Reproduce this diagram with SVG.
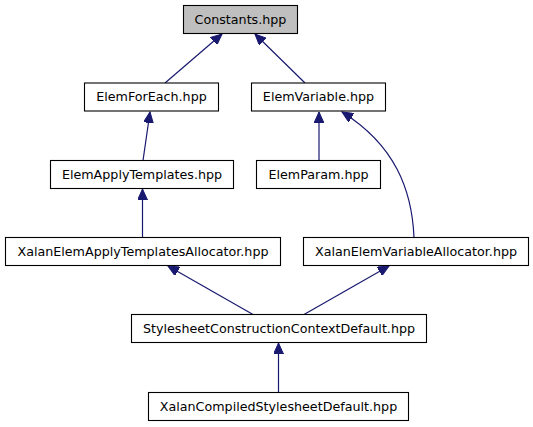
<svg xmlns="http://www.w3.org/2000/svg" width="533" height="427" viewBox="0 0 533 427">
<style>
.box{fill:#ffffff;stroke:#000000;stroke-width:1.1}
.root{fill:#bfbfbf;stroke:#000000;stroke-width:1.1}
text{font-family:"DejaVu Sans",sans-serif;font-size:12.7px;text-anchor:middle;fill:#000000}
.edge{fill:none;stroke:#191970;stroke-width:1.2}
</style>
<defs>
<marker id="ah" markerUnits="userSpaceOnUse" markerWidth="12" markerHeight="10" refX="11" refY="5" orient="auto">
<path d="M0,0 L11,5 L0,10 Z" fill="#191970" stroke="#191970" stroke-width="1"/>
</marker>
</defs>
<rect width="533" height="427" fill="#ffffff"/>
<g id="edges">
<path class="edge" marker-end="url(#ah)" d="M165,83 L222,34"/>
<path class="edge" marker-end="url(#ah)" d="M305,83 L255,34"/>
<path class="edge" marker-end="url(#ah)" d="M143,160.5 L150,112"/>
<path class="edge" marker-end="url(#ah)" d="M319,160.5 L319,112"/>
<path class="edge" marker-end="url(#ah)" d="M414,237.5 C412,190 395,145 342,112"/>
<path class="edge" marker-end="url(#ah)" d="M142.5,237.5 L142.5,189"/>
<path class="edge" marker-end="url(#ah)" d="M253,314.5 L168,266"/>
<path class="edge" marker-end="url(#ah)" d="M304,314.5 L389,266"/>
<path class="edge" marker-end="url(#ah)" d="M278.5,392.5 L278.5,343"/>
</g>
<g id="n_constants"><rect class="root" x="183.5" y="5.5" width="114" height="28"/><text x="240.5" y="23.5">Constants.hpp</text></g>
<g id="n_elemforeach"><rect class="box" x="84.5" y="83" width="134" height="28"/><text x="151.5" y="101">ElemForEach.hpp</text></g>
<g id="n_elemvariable"><rect class="box" x="251.5" y="83" width="134" height="28"/><text x="318.5" y="101">ElemVariable.hpp</text></g>
<g id="n_elemapplytemplates"><rect class="box" x="50.5" y="160.5" width="183" height="28"/><text x="142" y="178.5">ElemApplyTemplates.hpp</text></g>
<g id="n_elemparam"><rect class="box" x="256.5" y="160.5" width="124" height="28"/><text x="318.5" y="178.5">ElemParam.hpp</text></g>
<g id="n_xeata"><rect class="box" x="5.5" y="237.5" width="275" height="28"/><text x="143" y="255.5">XalanElemApplyTemplatesAllocator.hpp</text></g>
<g id="n_xeva"><rect class="box" x="303.5" y="237.5" width="225" height="28"/><text x="416" y="255.5">XalanElemVariableAllocator.hpp</text></g>
<g id="n_sccd"><rect class="box" x="131.5" y="314.5" width="295" height="28"/><text x="279" y="332.5">StylesheetConstructionContextDefault.hpp</text></g>
<g id="n_xcsd"><rect class="box" x="148.5" y="392.5" width="260" height="28"/><text x="278.5" y="410.5">XalanCompiledStylesheetDefault.hpp</text></g>
</svg>
